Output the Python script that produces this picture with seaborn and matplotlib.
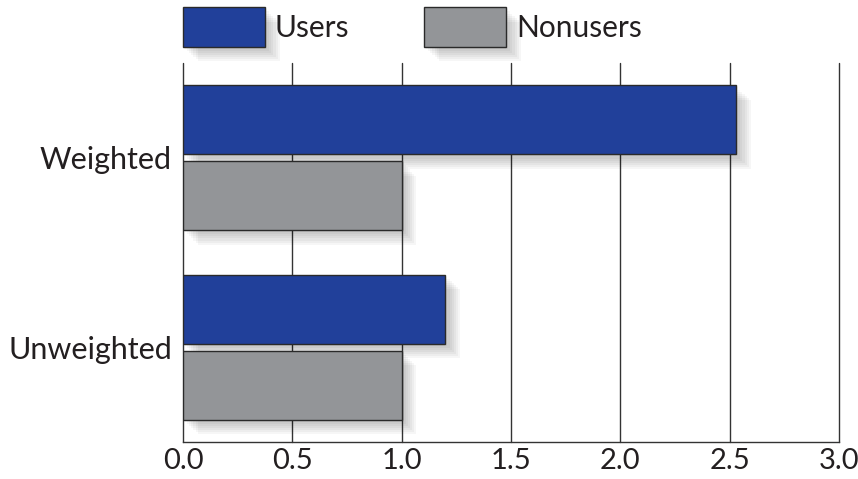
import matplotlib
matplotlib.use("Agg")
import matplotlib.pyplot as plt
import matplotlib.patheffects as pe
import seaborn as sns
import pandas as pd

# Data
methods = ["Weighted", "Unweighted"]
groups = ["Users", "Nonusers"]
users = [2.53, 1.20]
nonusers = [1.0, 1.0]
xticks = [0.0, 0.5, 1.0, 1.5, 2.0, 2.5, 3.0]

df = pd.DataFrame({
    "method": methods * 2,
    "group": [groups[0]] * len(users) + [groups[1]] * len(nonusers),
    "value": users + nonusers,
})

sns.set_theme(style="white")
plt.rcParams["font.family"] = ["Lato", "DejaVu Sans"]
text_color = "#231f20"

fig = plt.figure(figsize=(8.58, 4.79), dpi=100)
ax = fig.add_axes([183 / 858, 37 / 479, 656 / 858, 379 / 479])

sns.barplot(
    data=df, y="method", x="value", hue="group",
    order=methods, hue_order=groups, orient="h",
    palette={"Users": "#21409A", "Nonusers": "#939598"},
    width=0.8, gap=0.09, saturation=1,
    edgecolor="#2a2a2a", linewidth=1.0,
    ax=ax, zorder=3,
)

# soft drop shadow under each bar
shadow = [pe.SimplePatchShadow(offset=(d, -d), shadow_rgbFace="black", alpha=0.035)
          for d in (1.5, 3, 4.5, 6, 7.5, 9, 10.5)]
for bar in ax.patches:
    bar.set_path_effects(shadow + [pe.Normal()])

ax.set_xlim(0, 3.0)
ax.set_ylim(1.5, -0.5)
ax.set_xticks(xticks)
ax.set_xticklabels([f"{t:.1f}" for t in xticks])
ax.set_xlabel("")
ax.set_ylabel("")

ax.set_axisbelow(True)
ax.grid(axis="x", color="#333333", linewidth=1.0)
ax.grid(axis="y", visible=False)
for line in ax.get_xgridlines():
    line.set_clip_on(False)
for side in ("top", "right", "left"):
    ax.spines[side].set_visible(False)
ax.spines["bottom"].set_color("#333333")
ax.spines["bottom"].set_linewidth(1.0)

ax.tick_params(axis="x", length=0, pad=4, labelsize=21, labelcolor=text_color)
ax.tick_params(axis="y", length=0, pad=8, labelsize=22, labelcolor=text_color)

handles, labels = ax.get_legend_handles_labels()
ax.get_legend().remove()
fig.legend(
    handles, labels, loc="center left",
    bbox_to_anchor=(183 / 858, 1 - 27 / 479),
    ncol=2, frameon=False, fontsize=21.5,
    handlelength=2.75, handleheight=1.65,
    handletextpad=0.33, columnspacing=2.5,
    borderpad=0, borderaxespad=0, labelcolor=text_color,
)

fig.savefig("out.png", dpi=100)
